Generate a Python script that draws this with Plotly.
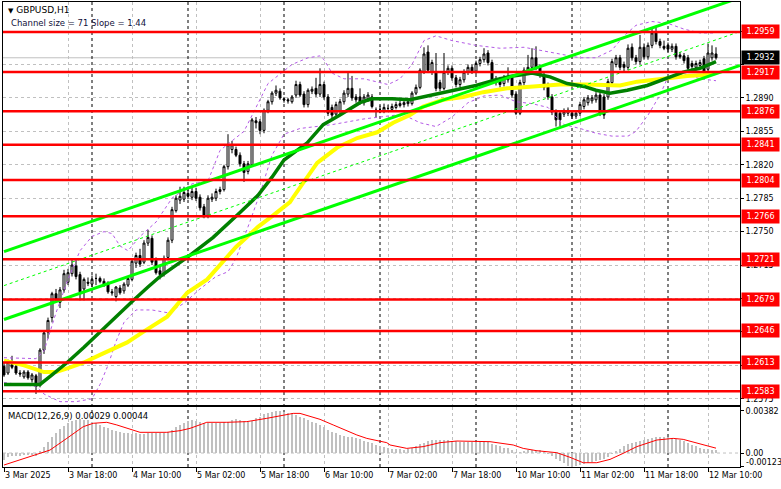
import plotly.graph_objects as go

# ---------------- data ----------------
opens = [
    1.2609, 1.2602, 1.2611, 1.2609, 1.2602, 1.2598, 1.2603, 1.2595, 1.2599, 1.2589,
    1.2626, 1.2645, 1.2660, 1.2685, 1.2676, 1.2689, 1.2697, 1.2706, 1.2714, 1.2705,
    1.2690, 1.2697, 1.2695, 1.2701, 1.2701, 1.2698, 1.2696, 1.2687, 1.2682, 1.2691,
    1.2688, 1.2694, 1.2700, 1.2717, 1.2725, 1.2718, 1.2738, 1.2743, 1.2720, 1.2709,
    1.2706, 1.2723, 1.2741, 1.2772, 1.2783, 1.2784, 1.2790, 1.2786, 1.2792, 1.2786,
    1.2776, 1.2767, 1.2784, 1.2785, 1.2792, 1.2794, 1.2818, 1.2836, 1.2836, 1.2830,
    1.2821, 1.2813, 1.2820, 1.2866, 1.2865, 1.2856, 1.2877, 1.2886, 1.2895, 1.2897,
    1.2889, 1.2888, 1.2886, 1.2893, 1.2904, 1.2894, 1.2883, 1.2897, 1.2900, 1.2894,
    1.2904, 1.2891, 1.2880, 1.2873, 1.2876, 1.2886, 1.2894, 1.2900, 1.2891, 1.2891,
    1.2885, 1.2889, 1.2891, 1.2877, 1.2878, 1.2877, 1.2879, 1.2878, 1.2880, 1.2882,
    1.2883, 1.2884, 1.2884, 1.2895, 1.2901, 1.2917, 1.2938, 1.2917, 1.2917, 1.2906,
    1.2900, 1.2917, 1.2921, 1.2911, 1.2904, 1.2909, 1.2917, 1.2922, 1.2918, 1.2926,
    1.2930, 1.2937, 1.2927, 1.2910, 1.2910, 1.2905, 1.2909, 1.2911, 1.2894, 1.2874,
    1.2906, 1.2919, 1.2922, 1.2932, 1.2922, 1.2914, 1.2903, 1.2891, 1.2875, 1.2874,
    1.2873, 1.2874, 1.2874, 1.2871, 1.2874, 1.2881, 1.2885, 1.2887, 1.2888, 1.2893,
    1.2891, 1.2891, 1.2906, 1.2925, 1.2932, 1.2925, 1.2922, 1.2943, 1.2932, 1.2928,
    1.2943, 1.2933, 1.2945, 1.2958, 1.2949, 1.2944, 1.2945, 1.2941, 1.2944, 1.2935,
    1.2934, 1.2932, 1.2926, 1.2922, 1.2924, 1.2931, 1.2920, 1.2932, 1.2936,
]
highs = [
    1.2613, 1.2616, 1.2620, 1.2611, 1.2605, 1.2605, 1.2605, 1.2602, 1.2601, 1.2628,
    1.2646, 1.2660, 1.2687, 1.2690, 1.2692, 1.2710, 1.2711, 1.2721, 1.2722, 1.2708,
    1.2702, 1.2702, 1.2704, 1.2706, 1.2703, 1.2701, 1.2698, 1.2690, 1.2693, 1.2694,
    1.2697, 1.2703, 1.2722, 1.2728, 1.2732, 1.2741, 1.2752, 1.2746, 1.2723, 1.2714,
    1.2725, 1.2744, 1.2776, 1.2788, 1.2797, 1.2797, 1.2794, 1.2797, 1.2796, 1.2789,
    1.2779, 1.2788, 1.2790, 1.2795, 1.2797, 1.2820, 1.2852, 1.2845, 1.2839, 1.2833,
    1.2824, 1.2824, 1.2869, 1.2870, 1.2868, 1.2879, 1.2888, 1.2897, 1.2903, 1.2900,
    1.2891, 1.2890, 1.2893, 1.2908, 1.2907, 1.2897, 1.2900, 1.2902, 1.2911, 1.2921,
    1.2907, 1.2894, 1.2883, 1.2886, 1.2889, 1.2898, 1.2917, 1.2913, 1.2894, 1.2900,
    1.2894, 1.2896, 1.2894, 1.2880, 1.2882, 1.2884, 1.2883, 1.2884, 1.2886, 1.2887,
    1.2887, 1.2889, 1.2897, 1.2904, 1.2921, 1.2943, 1.2945, 1.2930, 1.2937, 1.2909,
    1.2937, 1.2924, 1.2924, 1.2914, 1.2912, 1.2920, 1.2925, 1.2925, 1.2929, 1.2933,
    1.2942, 1.2940, 1.2930, 1.2913, 1.2912, 1.2914, 1.2922, 1.2914, 1.2897, 1.2909,
    1.2922, 1.2935, 1.2942, 1.2944, 1.2925, 1.2917, 1.2906, 1.2894, 1.2878, 1.2877,
    1.2879, 1.2880, 1.2877, 1.2877, 1.2886, 1.2891, 1.2893, 1.2893, 1.2896, 1.2896,
    1.2894, 1.2910, 1.2931, 1.2935, 1.2935, 1.2928, 1.2946, 1.2947, 1.2935, 1.2956,
    1.2947, 1.2948, 1.2963, 1.2965, 1.2952, 1.2950, 1.2948, 1.2947, 1.2947, 1.2938,
    1.2937, 1.2935, 1.2929, 1.2929, 1.2930, 1.2934, 1.2947, 1.2945, 1.2943,
]
lows = [
    1.2598, 1.2600, 1.2606, 1.2600, 1.2598, 1.2596, 1.2595, 1.2592, 1.2580, 1.2587,
    1.2622, 1.2638, 1.2655, 1.2676, 1.2670, 1.2686, 1.2694, 1.2703, 1.2700, 1.2678,
    1.2678, 1.2693, 1.2692, 1.2694, 1.2696, 1.2692, 1.2685, 1.2683, 1.2677, 1.2684,
    1.2685, 1.2692, 1.2698, 1.2712, 1.2713, 1.2716, 1.2735, 1.2715, 1.2705, 1.2700,
    1.2703, 1.2720, 1.2738, 1.2770, 1.2779, 1.2781, 1.2784, 1.2783, 1.2782, 1.2772,
    1.2764, 1.2764, 1.2781, 1.2782, 1.2789, 1.2792, 1.2815, 1.2832, 1.2828, 1.2818,
    1.2802, 1.2810, 1.2818, 1.2858, 1.2852, 1.2853, 1.2874, 1.2883, 1.2892, 1.2888,
    1.2885, 1.2884, 1.2884, 1.2890, 1.2891, 1.2880, 1.2880, 1.2894, 1.2891, 1.2891,
    1.2888, 1.2871, 1.2866, 1.2870, 1.2873, 1.2883, 1.2891, 1.2887, 1.2885, 1.2883,
    1.2882, 1.2886, 1.2879, 1.2870, 1.2874, 1.2874, 1.2876, 1.2876, 1.2878, 1.2880,
    1.2880, 1.2881, 1.2882, 1.2893, 1.2899, 1.2915, 1.2916, 1.2914, 1.2897, 1.2897,
    1.2898, 1.2914, 1.2908, 1.2901, 1.2901, 1.2906, 1.2914, 1.2915, 1.2915, 1.2923,
    1.2927, 1.2924, 1.2906, 1.2903, 1.2901, 1.2902, 1.2906, 1.2890, 1.2872, 1.2872,
    1.2903, 1.2916, 1.2919, 1.2919, 1.2911, 1.2898, 1.2888, 1.2872, 1.2860, 1.2860,
    1.2870, 1.2871, 1.2868, 1.2868, 1.2871, 1.2878, 1.2882, 1.2884, 1.2885, 1.2871,
    1.2868, 1.2888, 1.2903, 1.2922, 1.2919, 1.2918, 1.2919, 1.2929, 1.2925, 1.2925,
    1.2930, 1.2930, 1.2942, 1.2946, 1.2942, 1.2940, 1.2938, 1.2938, 1.2930, 1.2931,
    1.2926, 1.2918, 1.2920, 1.2919, 1.2921, 1.2913, 1.2917, 1.2929, 1.2930,
]
closes = [
    1.2600, 1.2613, 1.2608, 1.2602, 1.2601, 1.2603, 1.2597, 1.2600, 1.2588, 1.2626,
    1.2644, 1.2657, 1.2685, 1.2678, 1.2689, 1.2706, 1.2707, 1.2715, 1.2703, 1.2687,
    1.2700, 1.2696, 1.2700, 1.2701, 1.2698, 1.2695, 1.2687, 1.2686, 1.2692, 1.2686,
    1.2695, 1.2701, 1.2719, 1.2725, 1.2716, 1.2738, 1.2744, 1.2718, 1.2707, 1.2705,
    1.2722, 1.2741, 1.2773, 1.2785, 1.2787, 1.2791, 1.2787, 1.2792, 1.2785, 1.2775,
    1.2767, 1.2785, 1.2786, 1.2792, 1.2794, 1.2818, 1.2841, 1.2841, 1.2830, 1.2821,
    1.2812, 1.2821, 1.2867, 1.2864, 1.2856, 1.2877, 1.2886, 1.2895, 1.2898, 1.2890,
    1.2888, 1.2887, 1.2891, 1.2904, 1.2893, 1.2883, 1.2898, 1.2899, 1.2894, 1.2904,
    1.2891, 1.2874, 1.2872, 1.2883, 1.2886, 1.2895, 1.2900, 1.2890, 1.2888, 1.2886,
    1.2891, 1.2893, 1.2881, 1.2877, 1.2878, 1.2880, 1.2879, 1.2881, 1.2883, 1.2884,
    1.2885, 1.2886, 1.2895, 1.2901, 1.2919, 1.2936, 1.2919, 1.2927, 1.2900, 1.2900,
    1.2917, 1.2921, 1.2911, 1.2904, 1.2909, 1.2917, 1.2922, 1.2918, 1.2926, 1.2930,
    1.2936, 1.2927, 1.2909, 1.2906, 1.2904, 1.2911, 1.2912, 1.2893, 1.2874, 1.2906,
    1.2919, 1.2922, 1.2932, 1.2922, 1.2914, 1.2901, 1.2891, 1.2875, 1.2867, 1.2867,
    1.2876, 1.2877, 1.2871, 1.2874, 1.2883, 1.2888, 1.2890, 1.2890, 1.2893, 1.2874,
    1.2872, 1.2907, 1.2928, 1.2932, 1.2922, 1.2922, 1.2942, 1.2932, 1.2928, 1.2943,
    1.2933, 1.2945, 1.2958, 1.2949, 1.2945, 1.2942, 1.2941, 1.2944, 1.2933, 1.2933,
    1.2929, 1.2921, 1.2923, 1.2926, 1.2927, 1.2916, 1.2937, 1.2937, 1.2932,
]

macd_hist = [
    -0.0006, -0.0004, -0.0003, -0.0003, -0.00025, -0.0002, -0.0002, -0.0002, -0.00025,
    0.00018, 0.00058, 0.00103, 0.00148, 0.00179, 0.00215, 0.00245, 0.0027, 0.00294,
    0.0030, 0.00306, 0.0030, 0.0030, 0.00285, 0.00276, 0.00255, 0.00239, 0.00224,
    0.00209, 0.0020, 0.00191, 0.00185, 0.00179, 0.00173, 0.00179, 0.00173, 0.0017,
    0.00179, 0.00179, 0.00179, 0.00179, 0.00185, 0.00194, 0.00209, 0.00233, 0.00255,
    0.00276, 0.00291, 0.0030, 0.00294, 0.00285, 0.00276, 0.0027, 0.0027, 0.0027,
    0.00276, 0.00279, 0.00285, 0.0030, 0.00306, 0.0030, 0.00291, 0.00285, 0.00294,
    0.00315, 0.0033, 0.00351, 0.00367, 0.00376, 0.00382, 0.0038, 0.00376, 0.00367,
    0.00361, 0.00345, 0.0033, 0.00315, 0.0030, 0.00285, 0.00276, 0.00255, 0.00233,
    0.00209, 0.00194, 0.00179, 0.00164, 0.00155, 0.00148, 0.00142, 0.00133, 0.00124,
    0.00112, 0.00103, 0.00088, 0.00073, 0.00064, 0.00052,
    0.00045, 0.0004, 0.00036, 0.00033, 0.0003, 0.00033, 0.0005, 0.00065, 0.0008, 0.00095,
    0.0011, 0.00115, 0.0012, 0.0012, 0.0012, 0.00118, 0.00112, 0.00105, 0.001, 0.001,
    0.001, 0.001, 0.00102, 0.00105, 0.00108, 0.001, 0.00085, 0.0007, 0.0006, 0.0005,
    0.00045, 0.0003, 0.00005, 0.0001, 0.0002, 0.00027, 0.0003, 0.0003, 0.00025, 0.0001,
    -0.00012, -0.0003, -0.0005, -0.0007, -0.0009, -0.00115, -0.00123, -0.0012, -0.0011, -0.001,
    -0.0009, -0.0008, -0.0007, -0.0006, -0.0005, -0.00035, -0.0001, 0.0002, 0.0004, 0.0006,
    0.0008, 0.0009, 0.001, 0.0011, 0.0012, 0.0013, 0.0014, 0.00145, 0.0015, 0.0015,
    0.00148, 0.0014, 0.0013, 0.0012, 0.0011, 0.0009, 0.0007, 0.0006, 0.0005, 0.0004,
    0.00035, 0.0003, 0.00029,
]

signal_idx = [0, 7.3, 11.5, 15.7, 19.8, 22.3, 25.7, 28.2, 32.3, 34, 40.7, 44, 46.5, 49, 50.7,
              55.7, 60.7, 65.7, 69.8, 72.3, 74, 79, 82.3, 88.2, 90.7, 95.7, 96.5, 100.7, 104.8,
              109, 113.2, 121.5, 127.3, 129.8, 133.2, 138.2, 141.5, 144.8, 148.2, 151.5, 154.8,
              158.2, 163.2, 167.3, 169.8, 173.2, 178]
signal_val = [-0.00109, -0.00027, 0.00027, 0.00133, 0.00239, 0.0027, 0.00279, 0.00255, 0.00209,
              0.00188, 0.00188, 0.00203, 0.00224, 0.0026, 0.00279, 0.00279, 0.00285, 0.00315,
              0.00345, 0.0036, 0.0036, 0.00306, 0.00255, 0.00164, 0.00133, 0.00094, 0.00073,
              0.00042, 0.00058, 0.00094, 0.00109, 0.00103, 0.00073, 0.00042, 0.00021, 0.00003,
              -0.00039, -0.00088, -0.00088, -0.00058, -0.00003, 0.00058, 0.00118, 0.00133,
              0.00124, 0.00088, 0.00044]

ma_green_idx = [0, 9, 12, 15.8, 20, 24, 28, 32.3, 36, 39, 45.8, 52.3, 59, 63.5, 67, 70, 75.8,
                79.8, 84, 89, 92, 97, 101.5, 104.8, 108, 113, 118, 123, 126, 129, 132, 136.5,
                140.8, 145, 148, 151.5, 155.8, 160.8, 165.8, 169.8, 174, 178]
ma_green_val = [1.2590, 1.2590, 1.2600, 1.2613, 1.2629, 1.2645, 1.2662, 1.2678, 1.2692, 1.2703,
                1.2723, 1.2744, 1.2770, 1.2788, 1.2807, 1.2825, 1.2843, 1.2862, 1.2872, 1.2885,
                1.2889, 1.2889, 1.2888, 1.2891, 1.2893, 1.2898, 1.2903, 1.2909, 1.2912, 1.2914,
                1.2916, 1.2912, 1.2905, 1.2902, 1.2898, 1.2895, 1.2898, 1.2903, 1.2911, 1.2917,
                1.2921, 1.2928]

ma_yellow_idx = [0, 5, 10, 13, 16, 20, 24, 30.8, 34.8, 40.8, 45.8, 50.8, 58, 63.5, 67.3, 71.5,
                 72.3, 78.3, 83.3, 88.3, 93.3, 97.3, 101.5, 104.8, 109.8, 114.8, 119.8, 125.8,
                 129, 134, 139, 145.8, 149.8, 154, 158.3, 162.3, 166.5, 170.8, 174.8, 178]
ma_yellow_val = [1.2615, 1.2610, 1.2603, 1.2603, 1.2607, 1.2613, 1.2621, 1.2634, 1.2645, 1.2661,
                 1.2686, 1.2700, 1.2734, 1.2755, 1.2767, 1.2781, 1.2786, 1.2822, 1.2838, 1.2848,
                 1.2854, 1.2864, 1.2872, 1.2881, 1.2888, 1.2891, 1.2896, 1.2900, 1.2901, 1.2903,
                 1.2904, 1.2904, 1.2903, 1.2903, 1.2907, 1.2909, 1.2911, 1.2913, 1.2914, 1.2916]

band_up_idx = [0, 8, 10, 13, 16, 19, 22, 25, 27, 29, 31, 34, 38, 42, 47, 51, 54, 57, 60, 63, 66,
               69, 72, 76, 79, 80, 82, 85, 90, 96, 99, 102, 105, 108, 112, 118, 124, 130, 136,
               140, 144, 148, 152, 155, 158, 162, 166, 170, 174, 178]
band_up_val = [1.2618, 1.2617, 1.2625, 1.2665, 1.2700, 1.2730, 1.2745, 1.2750, 1.2748, 1.2735,
               1.2730, 1.2745, 1.2760, 1.2785, 1.2800, 1.2803, 1.2835, 1.2845, 1.2855, 1.2880,
               1.2905, 1.2915, 1.2925, 1.2932, 1.2934, 1.2930, 1.2916, 1.2910, 1.2910, 1.2904,
               1.2910, 1.2925, 1.2950, 1.2955, 1.2950, 1.2945, 1.2942, 1.2943, 1.2938, 1.2935,
               1.2932, 1.2932, 1.2940, 1.2955, 1.2966, 1.2970, 1.2968, 1.2962, 1.2958, 1.2958]

band_lo_idx = [0, 8, 10, 14, 18, 22, 24, 26, 28, 30, 33, 37, 41, 45, 49, 53, 56, 58, 61, 64, 67,
               70, 74, 78, 82, 86, 90, 94, 98, 101, 104, 108, 112, 116, 120, 124, 128, 132, 136,
               138, 140, 144, 148, 152, 156, 158, 161, 164, 166, 170, 174, 178]
band_lo_val = [1.2592, 1.2588, 1.2580, 1.2572, 1.2572, 1.2575, 1.2590, 1.2610, 1.2635, 1.2655,
               1.2668, 1.2668, 1.2665, 1.2675, 1.2690, 1.2703, 1.2708, 1.2722, 1.2755, 1.2790,
               1.2830, 1.2852, 1.2858, 1.2860, 1.2862, 1.2865, 1.2868, 1.2870, 1.2872, 1.2870,
               1.2864, 1.2860, 1.2870, 1.2885, 1.2892, 1.2893, 1.2886, 1.2884, 1.2880, 1.2870,
               1.2862, 1.2858, 1.2853, 1.2850, 1.2850, 1.2855, 1.2872, 1.2893, 1.2912, 1.2915,
               1.2910, 1.2908]

channel_idx = [0, 184]
channel_upper = [1.2729, 1.2995]
channel_middle = [1.26935, 1.29595]
channel_lower = [1.2658, 1.2924]

levels = [1.2959, 1.2917, 1.2876, 1.2841, 1.2804, 1.2766, 1.2721, 1.2679, 1.2646, 1.2613, 1.2583]
current_price = 1.2932
price_ticks = [1.2575, 1.2610, 1.2645, 1.2680, 1.2715, 1.2750, 1.2785, 1.2820, 1.2855, 1.2890,
               1.2925, 1.2960]
price_tick_text = ["1.2575", "", "", "", "1.2715", "1.2750", "1.2785", "1.2820", "1.2855",
                   "1.2890", "", ""]
time_tick_idx = [0, 16, 32, 48, 64, 80, 96, 112, 128, 144, 160, 176]
time_tick_text = ["3 Mar 2025", "3 Mar 18:00", "4 Mar 10:00", "5 Mar 02:00", "5 Mar 18:00",
                  "6 Mar 10:00", "7 Mar 02:00", "7 Mar 18:00", "10 Mar 10:00", "11 Mar 02:00",
                  "11 Mar 18:00", "12 Mar 10:00"]
day_sep_idx = [22, 46, 70, 94, 118, 142, 166]
macd_ticks = [0.00382, 0.0]
macd_tick_text = ["0.00382", "0.00"]
macd_min_label = -0.00123

# ---------------- layout geometry ----------------
W, H = 781, 489
ML, MR, MT, MB = 3, 41, 2, 22
PH = H - MT - MB
MAIN_BOTTOM_PX, MACD_TOP_PX = 405, 407


def py(px):
    return (H - MB - px) / PH


def pxx(px):
    return (px - ML) / (W - ML - MR)


FONT = "DejaVu Sans"
FS = 8
idx = list(range(len(closes)))

fig = go.Figure()

fig.add_trace(go.Candlestick(
    x=idx, open=opens, high=highs, low=lows, close=closes,
    increasing=dict(line=dict(color="black", width=1), fillcolor="white"),
    decreasing=dict(line=dict(color="black", width=1), fillcolor="black"),
    whiskerwidth=0, hoverinfo="skip", xaxis="x", yaxis="y"))

band_style = dict(color="#B45AE6", width=1, dash="3px,3px")
fig.add_trace(go.Scatter(x=band_up_idx, y=band_up_val, mode="lines", line=band_style,
                         xaxis="x", yaxis="y", hoverinfo="skip"))
fig.add_trace(go.Scatter(x=band_lo_idx, y=band_lo_val, mode="lines", line=band_style,
                         xaxis="x", yaxis="y", hoverinfo="skip"))
fig.add_trace(go.Scatter(x=ma_yellow_idx, y=ma_yellow_val, mode="lines",
                         line=dict(color="#FFFF00", width=4), xaxis="x", yaxis="y",
                         hoverinfo="skip"))
fig.add_trace(go.Scatter(x=ma_green_idx, y=ma_green_val, mode="lines",
                         line=dict(color="#008000", width=3.5), xaxis="x", yaxis="y",
                         hoverinfo="skip"))
for vals, w, d in [(channel_upper, 3, "solid"), (channel_lower, 3, "solid"),
                   (channel_middle, 1, "3px,3px")]:
    fig.add_trace(go.Scatter(x=channel_idx, y=vals, mode="lines",
                             line=dict(color="#00FF00", width=w, dash=d),
                             xaxis="x", yaxis="y", hoverinfo="skip"))

fig.add_trace(go.Bar(x=idx, y=macd_hist, marker=dict(color="#C0C0C0", line=dict(width=0)),
                     width=0.7, xaxis="x2", yaxis="y2", hoverinfo="skip"))
fig.add_trace(go.Scatter(x=signal_idx, y=signal_val, mode="lines",
                         line=dict(color="#FF0000", width=1), xaxis="x2", yaxis="y2",
                         hoverinfo="skip"))

shapes = []
shapes.append(dict(type="line", xref="x domain", yref="y", x0=0, x1=1, y0=current_price,
                   y1=current_price, line=dict(color="#C0C0C0", width=1), layer="below"))
for d in day_sep_idx:
    shapes.append(dict(type="line", xref="x", yref="paper", x0=d, x1=d, y0=0, y1=1,
                       line=dict(color="black", width=1, dash="3px,3px"), layer="below"))
shapes.append(dict(type="line", xref="x2 domain", yref="y2", x0=0, x1=1, y0=0, y1=0,
                   line=dict(color="#C0C0C0", width=1, dash="3px,3px"), layer="below"))
for lv in levels:
    shapes.append(dict(type="line", xref="x domain", yref="y", x0=0, x1=1, y0=lv, y1=lv,
                       line=dict(color="#FF0000", width=2.5), layer="above"))

annotations = []
for lv in levels:
    annotations.append(dict(xref="paper", yref="y", x=1, y=lv, xanchor="left", yanchor="middle",
                            xshift=1, text=f"{lv:.4f}", showarrow=False, bgcolor="#FF0000",
                            width=34, height=10, borderpad=1.5,
                            font=dict(family=FONT, size=FS, color="white")))
annotations.append(dict(xref="paper", yref="y", x=1, y=current_price, xanchor="left",
                        yanchor="middle", xshift=1, text=f"{current_price:.4f}",
                        showarrow=False, bgcolor="#000000", width=34, height=10,
                        borderpad=1.5, font=dict(family=FONT, size=FS, color="white")))
annotations.append(dict(xref="paper", yref="paper", x=pxx(6), y=py(10), xanchor="left",
                        yanchor="middle", showarrow=False,
                        text="<span style='font-size:7px'>▼</span> GBPUSD,H1",
                        font=dict(family=FONT, size=9, color="black")))
annotations.append(dict(xref="paper", yref="paper", x=pxx(9), y=py(23), xanchor="left",
                        yanchor="middle", showarrow=False,
                        text="Channel size = 71 Slope = 1.44",
                        font=dict(family=FONT, size=8.5, color="#10103a")))
annotations.append(dict(xref="paper", yref="paper", x=pxx(6), y=py(416), xanchor="left",
                        yanchor="middle", showarrow=False,
                        text="MACD(12,26,9) 0.00029 0.00044",
                        font=dict(family=FONT, size=8.5, color="black")))
annotations.append(dict(xref="paper", yref="paper", x=1, y=py(462), xanchor="left",
                        yanchor="middle", xshift=4, showarrow=False,
                        text=f"{macd_min_label:.5f}",
                        font=dict(family=FONT, size=FS, color="black")))

axis_common = dict(showline=True, linecolor="black", linewidth=1, mirror=True, zeroline=False,
                   automargin=False)

fig.update_layout(
    width=W, height=H, margin=dict(l=ML, r=MR, t=MT, b=MB, autoexpand=False),
    paper_bgcolor="white", plot_bgcolor="white", showlegend=False,
    font=dict(family=FONT, size=FS, color="black"),
    bargap=0,
    xaxis=dict(domain=[0, 1], anchor="y", range=[-0.25, 184], rangeslider=dict(visible=False),
               tickvals=time_tick_idx, ticktext=time_tick_text, showticklabels=False,
               ticks="", showgrid=True, gridcolor="#C0C0C0", griddash="3px,3px",
               **axis_common),
    yaxis=dict(domain=[py(MAIN_BOTTOM_PX), 1], anchor="x", side="right",
               range=[1.25685, 1.29904], tickvals=price_ticks, ticktext=price_tick_text,
               ticks="outside", ticklen=3, tickcolor="black", showgrid=True,
               gridcolor="#C0C0C0", griddash="3px,3px",
               tickfont=dict(family=FONT, size=FS, color="black"), **axis_common),
    xaxis2=dict(domain=[0, 1], anchor="y2", matches="x", range=[-0.25, 184],
                tickvals=time_tick_idx, ticktext=time_tick_text, ticks="outside", ticklen=4,
                tickcolor="black", ticklabelposition="outside right", tickangle=0,
                showgrid=True, gridcolor="#C0C0C0", griddash="3px,3px",
                tickfont=dict(family=FONT, size=FS, color="black"), **axis_common),
    yaxis2=dict(domain=[0, py(MACD_TOP_PX)], anchor="x2", side="right",
                range=[-0.00127, 0.00418], tickvals=macd_ticks + [macd_min_label],
                ticktext=macd_tick_text + [""], ticks="outside", ticklen=3, tickcolor="black",
                showgrid=False, tickfont=dict(family=FONT, size=FS, color="black"),
                **axis_common),
    shapes=shapes, annotations=annotations,
)

fig.write_html("out.html",
               config={"displayModeBar": False, "staticPlot": True},
               post_script="document.body.style.margin='0px';"
                           "document.body.style.overflow='hidden';")
